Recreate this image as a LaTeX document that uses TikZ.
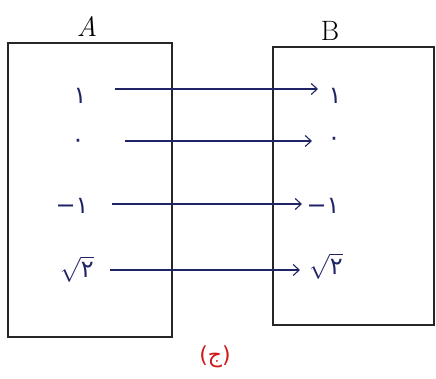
\documentclass[tikz,border=0pt]{standalone}
\usepackage{fontspec}
\newfontfamily\arabicfont[Script=Arabic]{DejaVu Sans}
\newfontfamily\plainsans{DejaVu Sans}
\TeXXeTstate=1
\usetikzlibrary{arrows.meta}
\definecolor{ink}{HTML}{1E2466}
\definecolor{capred}{HTML}{D01818}
\newcommand{\minusone}{{\plainsans\char"2212}{\arabicfont ١}}
\newcommand{\sqrttwo}{$\sqrt{\hbox{\arabicfont ٢}}$}
\tikzset{
  setbox/.style={draw=black!85, line width=1.3pt},
  setname/.style={font=\fontsize{28}{30}\selectfont, inner sep=0pt},
  elem/.style={text=ink, font=\fontsize{24}{26}\selectfont\arabicfont, inner sep=0pt},
  maparrow/.style={draw=ink, line width=1.1pt, -{Straight Barb[length=6pt,width=11pt,line width=1.1pt]}}
}
\begin{document}
\begin{tikzpicture}[x=1pt,y=-1pt]
\useasboundingbox (0,0) rectangle (436,378);
% boxes
\draw[setbox] (8,43) rectangle (172,337);
\draw[setbox] (273,47) rectangle (434,325);
\node[setname, font=\fontsize{28}{30}\selectfont\itshape] (A) at (87,27) {A};
\node[setname] (B) at (330,31) {B};
% left elements
\node[elem] (a1) at (80,96) {١};
\node[elem] (a2) at (78,143) {٠};
\node[elem] (a3) at (72,206) {\minusone};
\node[elem] (a4) at (77,269) {\sqrttwo};
% right elements
\node[elem] (b1) at (335,96) {١};
\node[elem] (b2) at (334,141) {٠};
\node[elem] (b3) at (323,206) {\minusone};
\node[elem] (b4) at (326,266) {\sqrttwo};
% arrow endpoints
\coordinate (s1) at (115,89);  \coordinate (e1) at (318,89);
\coordinate (s2) at (125,141); \coordinate (e2) at (312,141);
\coordinate (s3) at (112,204); \coordinate (e3) at (302,204);
\coordinate (s4) at (110,270); \coordinate (e4) at (300,270);
\draw[maparrow] (s1) -- (e1);
\draw[maparrow] (s2) -- (e2);
\draw[maparrow] (s3) -- (e3);
\draw[maparrow] (s4) -- (e4);
% caption
\node[text=capred, font=\fontsize{22}{24}\selectfont\arabicfont, inner sep=0pt] (cap) at (215,357) {\beginR(ج)\endR};
\end{tikzpicture}
\end{document}
